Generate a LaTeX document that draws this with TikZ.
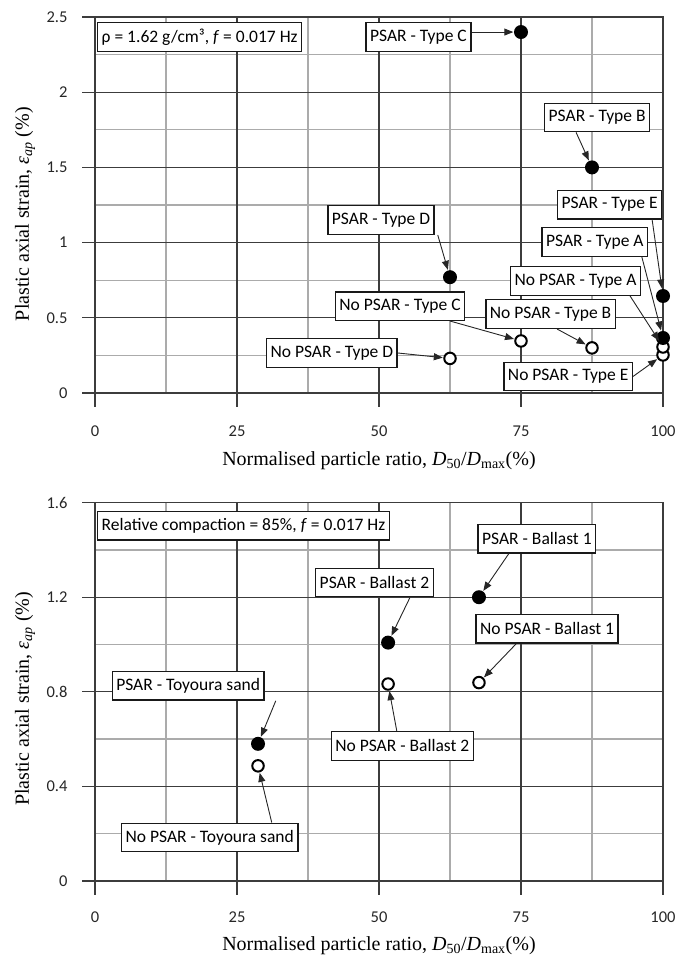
\documentclass[tikz,border=0pt]{standalone}
\usepackage{fontspec}
\setmainfont{Liberation Serif}
\newfontfamily\calfont{Carlito}
\usetikzlibrary{arrows.meta}
\definecolor{couleurgrille}{HTML}{3C3C3C}
\definecolor{couleurfine}{HTML}{ABABAB}
\newcommand{\fleche}[2]{\draw[fleche] (#1) -- (#2);}
\tikzset{
		major/.style={draw=couleurgrille, line width=1.3pt},
		minor/.style={draw=couleurfine, line width=1.3pt},
		etiquette/.style={draw=black!90, fill=white, line width=1.4pt, font=\calfont\fontsize{17.5}{18}\selectfont, inner xsep=4pt, inner ysep=0pt, minimum height=28.5pt},
		graduation/.style={font=\calfont\fontsize{16.5}{17}\selectfont, text=black!85},
		titreaxe/.style={font=\fontsize{20}{22}\selectfont},
		avec/.style={circle, fill=black, inner sep=0pt, minimum size=14pt},
		sans/.style={circle, draw=black, fill=white, line width=2pt, inner sep=0pt, minimum size=11.5pt},
		fleche/.style={line width=0.9pt, draw=black!85, -{Triangle[length=9pt,width=7pt]}, shorten >=0.5pt}
	}

\begin{document}
\begin{tikzpicture}
		\useasboundingbox (0,0) rectangle (689pt,-959pt);
		% graphe du haut
		\begin{scope}[shift={(95pt,-393pt)}, x=5.68pt, y=150.4pt]
			\foreach \gx in {12.5,37.5,62.5,87.5} \draw[minor] (\gx,0) -- (\gx,2.5);
			\foreach \gy in {0.25,0.75,1.25,1.75,2.25} \draw[minor] (0,\gy) -- (100,\gy);
			\foreach \gx in {25,50,75} \draw[major] (\gx,0) -- (\gx,2.5);
			\foreach \gy in {0.5,1,1.5,2} \draw[major] (0,\gy) -- (100,\gy);
			\draw[major] (0,0) rectangle (100,2.5);
			\foreach \gx in {0,25,50,75,100} {
				\draw[major] (\gx,0) -- ++(0,-14pt);
				\node[graduation] at ([yshift=-38pt]\gx,0) {\gx};
			}
			\foreach \gy in {0,0.5,1,1.5,2,2.5} {
				\draw[major] (0,\gy) -- ++(-13pt,0);
				\node[graduation, anchor=east] at ([xshift=-24pt]0,\gy) {\gy};
			}
			\node[titreaxe] (axexhaut) at ([yshift=-68pt]50,0) {Normalised particle ratio, \textit{D}\textsubscript{50}/\textit{D}\textsubscript{max}(\%)};
			\node[titreaxe, rotate=90] (axeyhaut) at ([xshift=-70pt]0,1.19) {Plastic axial strain, \textit{ε\textsubscript{ap}} (\%)};

			% etiquettes
			\node[etiquette, anchor=north west] (infohaut) at ([shift={(2pt,-5pt)}]0,2.5) {ρ = 1.62 g/cm³, \textit{f} = 0.017 Hz};
			\node[etiquette] (tagC) at (56.95,2.367) {PSAR - Type C};
			\node[etiquette] (tagB) at (88.4,1.832) {PSAR - Type B};
			\node[etiquette] (tagE) at (90.6,1.253) {PSAR - Type E};
			\node[etiquette] (tagA) at (88.0,1.004) {PSAR - Type A};
			\node[etiquette] (tagnA) at (84.6,0.745) {No PSAR - Type A};
			\node[etiquette] (tagD) at (50.35,1.150) {PSAR - Type D};
			\node[etiquette] (tagnC) at (53.7,0.578) {No PSAR - Type C};
			\node[etiquette] (tagnB) at (80.2,0.525) {No PSAR - Type B};
			\node[etiquette] (tagnD) at (41.7,0.266) {No PSAR - Type D};
			\node[etiquette] (tagnE) at (83.3,0.110) {No PSAR - Type E};

			% points
			\node[sans] (ptnE) at (100,0.253) {};
			\node[sans] (ptnA) at (100,0.306) {};
			\node[sans] (ptnC) at (75,0.346) {};
			\node[sans] (ptnB) at (87.5,0.300) {};
			\node[sans] (ptnD) at (62.5,0.230) {};
			\node[avec] (ptA) at (100,0.366) {};
			\node[avec] (ptE) at (100,0.645) {};
			\node[avec] (ptD) at (62.5,0.770) {};
			\node[avec] (ptB) at (87.5,1.5) {};
			\node[avec] (ptC) at (75,2.4) {};

			% liens
			\fleche{tagC.east |- ptC}{ptC}
			\fleche{[xshift=-21pt]tagB.south}{ptB}
			\fleche{[xshift=42.5pt]tagE.south}{ptE}
			\fleche{[xshift=47pt]tagA.south}{ptA}
			\fleche{[xshift=54.5pt]tagnA.south}{ptnA}
			\fleche{[xshift=3pt]tagD.south east}{ptD}
			\fleche{[xshift=50pt]tagnC.south}{ptnC}
			\fleche{[xshift=6.5pt]tagnB.south}{ptnB}
			\fleche{tagnD.east}{ptnD}
			\fleche{tagnE.east}{ptnE}
		\end{scope}

		% graphe du bas
		\begin{scope}[shift={(95pt,-881pt)}, x=5.68pt, y=236.5pt]
			\foreach \gx in {12.5,37.5,62.5,87.5} \draw[minor] (\gx,0) -- (\gx,1.6);
			\foreach \gy in {0.2,0.6,1.0,1.4} \draw[minor] (0,\gy) -- (100,\gy);
			\foreach \gx in {25,50,75} \draw[major] (\gx,0) -- (\gx,1.6);
			\foreach \gy in {0.4,0.8,1.2} \draw[major] (0,\gy) -- (100,\gy);
			\draw[major] (0,0) rectangle (100,1.6);
			\foreach \gx in {0,25,50,75,100} {
				\draw[major] (\gx,0) -- ++(0,-14pt);
				\node[graduation] at ([yshift=-36pt]\gx,0) {\gx};
			}
			\foreach \gy in {0,0.4,0.8,1.2,1.6} {
				\draw[major] (0,\gy) -- ++(-13pt,0);
				\node[graduation, anchor=east] at ([xshift=-24pt]0,\gy) {\gy};
			}
			\node[titreaxe] (axexbas) at ([yshift=-65pt]50,0) {Normalised particle ratio, \textit{D}\textsubscript{50}/\textit{D}\textsubscript{max}(\%)};
			\node[titreaxe, rotate=90] (axeybas) at ([xshift=-70pt]0,0.77) {Plastic axial strain, \textit{ε\textsubscript{ap}} (\%)};

			% etiquettes
			\node[etiquette, anchor=north west] (infobas) at ([shift={(2pt,-8pt)}]0,1.6) {Relative compaction = 85\%, \textit{f} = 0.017 Hz};
			\node[etiquette] (tagB1) at (77.8,1.448) {PSAR - Ballast 1};
			\node[etiquette] (tagB2) at (49.2,1.262) {PSAR - Ballast 2};
			\node[etiquette] (tagnB1) at (79.6,1.066) {No PSAR - Ballast 1};
			\node[etiquette] (tagnB2) at (54.1,0.571) {No PSAR - Ballast 2};
			\node[etiquette] (tagT) at (16.4,0.825) {PSAR - Toyoura sand};
			\node[etiquette] (tagnT) at (20.2,0.184) {No PSAR - Toyoura sand};

			% points
			\node[avec] (ptT) at (28.7,0.58) {};
			\node[sans] (ptnT) at (28.7,0.487) {};
			\node[avec] (ptB2) at (51.6,1.008) {};
			\node[sans] (ptnB2) at (51.6,0.833) {};
			\node[avec] (ptB1) at (67.6,1.2) {};
			\node[sans] (ptnB1) at (67.6,0.839) {};

			% liens
			\fleche{[xshift=-28pt]tagB1.south}{ptB1}
			\fleche{[xshift=35.5pt]tagB2.south}{ptB2}
			\fleche{[xshift=-31pt]tagnB1.south}{ptnB1}
			\fleche{[xshift=-5.5pt]tagnB2.north}{ptnB2}
			\fleche{[xshift=11pt]tagT.south east}{ptT}
			\fleche{[xshift=62pt]tagnT.north}{ptnT}
		\end{scope}
	\end{tikzpicture}
\end{document}
